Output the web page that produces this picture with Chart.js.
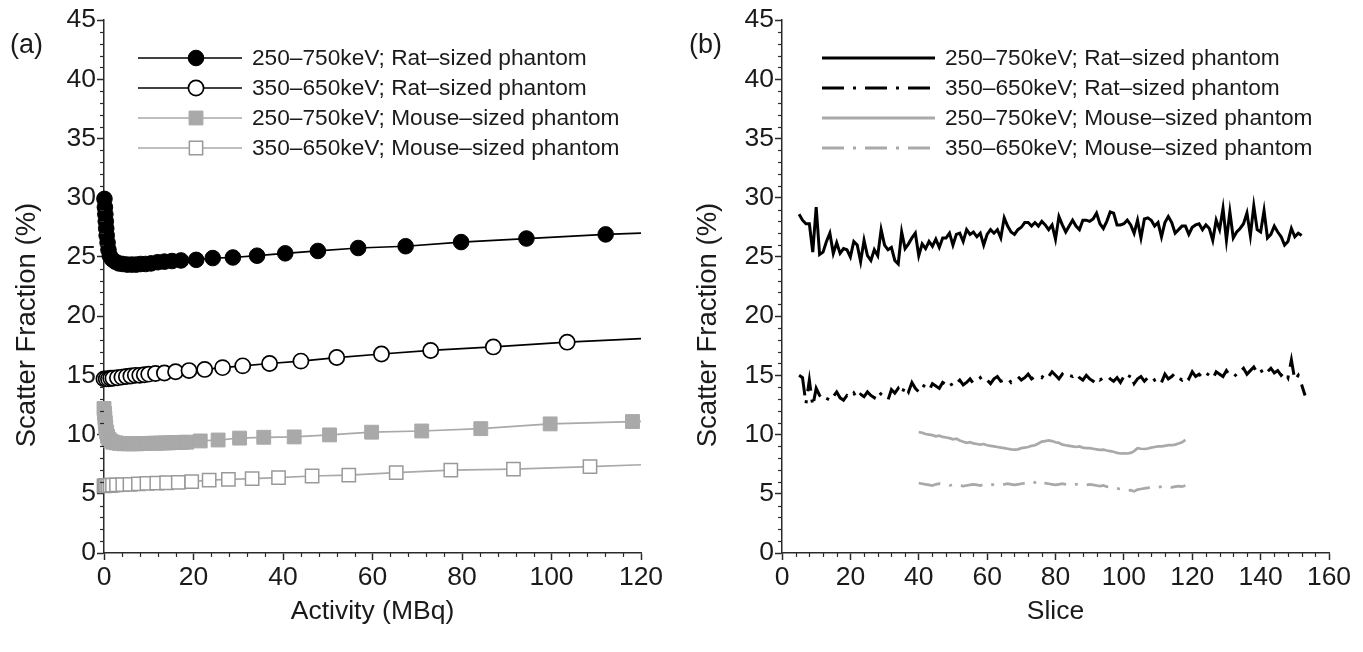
<!DOCTYPE html>
<html><head><meta charset="utf-8">
<script src="https://cdn.jsdelivr.net/npm/chart.js@4.4.1/dist/chart.umd.min.js"></script>
<style>
html,body{margin:0;padding:0;background:#fff;width:1363px;height:652px;overflow:hidden}
#ca{position:absolute;left:0;top:0}
#cb{position:absolute;left:680px;top:0}
</style></head>
<body>
<canvas id="ca" width="670" height="652"></canvas>
<canvas id="cb" width="683" height="652"></canvas>
<script>
// ---------- Panel (a): scatter fraction vs activity ----------
const actRat250 = [0.1,0.2,0.3,0.4,0.5,0.6,0.8,1.0,1.3,1.8,2.5,3.3,4.2,5.2,6.2,7.2,8.2,9.3,10.5,12,13.5,15.2,17.2,20.6,24.3,28.8,34.2,40.5,47.8,56.8,67.4,79.8,94.4,112.1,120];
const sfRat250  = [29.9,29.2,28.6,28.0,27.4,26.8,26.2,25.6,25.1,24.8,24.6,24.45,24.4,24.35,24.35,24.35,24.4,24.4,24.45,24.55,24.6,24.65,24.7,24.75,24.9,24.95,25.1,25.3,25.5,25.75,25.9,26.25,26.55,26.9,27.0];

const actRat350 = [0,0.5,1,1.5,2,3,4,5,6,7,8,9,10,11.5,13.5,16,19,22.5,26.5,31,37,44,52,62,73,87,103.5,120];
const sfRat350  = [14.7,14.7,14.7,14.75,14.75,14.8,14.85,14.9,14.95,15.0,15.0,15.05,15.1,15.15,15.2,15.3,15.4,15.5,15.65,15.8,16.0,16.2,16.5,16.8,17.1,17.4,17.8,18.1];

const actMouse250 = [0,0.1,0.2,0.3,0.4,0.6,0.8,1.1,1.5,2.0,2.7,3.5,4.5,5.5,6.5,7.5,8.5,9.5,10.5,11.5,12.5,13.5,14.5,15.5,16.5,17.5,18.5,21.5,25.5,30.3,35.7,42.5,50.4,59.8,71,84.2,99.7,118.1,120];
const sfMouse250  = [12.2,11.8,11.4,11.0,10.6,10.2,9.85,9.6,9.45,9.35,9.3,9.25,9.22,9.22,9.22,9.22,9.24,9.25,9.26,9.27,9.28,9.29,9.3,9.32,9.33,9.34,9.36,9.46,9.54,9.7,9.77,9.8,9.97,10.2,10.3,10.5,10.9,11.1,11.12];

const actMouse350 = [0,0.3,0.6,1.0,1.4,1.9,2.8,4.2,5.8,7.7,9.6,11.8,14.0,16.6,19.6,23.5,27.8,33.1,39,46.5,54.7,65.3,77.5,91.5,108.6,120];
const sfMouse350  = [5.66,5.68,5.7,5.7,5.72,5.73,5.76,5.78,5.8,5.84,5.87,5.9,5.93,5.97,6.02,6.15,6.22,6.28,6.36,6.5,6.58,6.78,7.0,7.08,7.3,7.45];

// ---------- Panel (b): scatter fraction vs slice ----------
const sliceStartRat = 5;
const sfSliceRat250 = [28.6,28.1,27.8,27.8,25.4,29.2,25.2,25.4,26.3,27.0,25.3,26.2,25.3,25.7,25.6,25.0,26.3,26.0,24.6,26.4,25.1,24.7,25.6,25.1,27.3,26.0,25.6,25.8,24.7,24.4,27.1,25.7,26.1,26.6,27.0,25.1,26.1,25.7,26.3,25.9,26.5,25.8,26.6,26.6,27.0,26.0,26.9,27.0,26.3,
27.3,26.9,27.1,26.7,27.0,26.0,26.9,27.3,27.0,27.3,26.6,28.3,27.6,27.1,26.9,27.3,27.5,27.9,27.9,27.6,27.9,27.6,28.0,27.7,27.3,27.7,26.5,28.4,27.7,27.1,27.6,28.1,27.6,27.3,28.1,28.1,28.0,28.2,28.7,27.8,27.4,28.0,28.8,28.7,27.7,27.7,27.8,28.1,27.7,27.0,28.1,26.6,28.2,28.3,
28.1,27.6,27.9,26.7,27.9,28.4,27.9,27.0,27.3,27.6,27.6,26.9,27.5,27.7,27.8,27.3,27.7,27.4,26.4,28.1,27.3,29.1,26.4,28.8,26.6,27.1,27.4,27.8,28.7,26.8,29.3,27.3,27.1,28.9,26.6,26.9,27.6,27.1,26.7,26.0,26.3,27.4,26.7,27.0,26.8];
const sfSliceRat350 = [15.0,14.8,12.6,14.6,12.4,13.9,13.3,13.0,12.8,13.4,
13.2,13.6,13.1,12.9,13.3,13.1,13.5,13.0,13.4,13.2,
13.6,13.3,13.1,13.7,13.4,13.2,12.9,13.8,13.5,13.9,
13.4,14.1,13.6,14.4,13.9,13.6,14.2,14.0,13.7,14.3,
14.1,13.9,14.4,14.2,14.5,14.0,14.3,14.6,14.2,14.4,
14.7,14.3,14.5,14.8,14.4,14.6,14.3,14.7,14.9,14.5,
14.6,14.8,14.4,14.7,14.9,14.6,14.8,15.1,14.7,14.9,
15.0,14.8,15.2,14.9,15.3,15.0,14.7,15.1,14.8,15.0,
14.9,15.2,14.8,14.6,15.0,14.7,14.5,14.9,14.6,14.8,
15.0,14.7,14.5,14.8,14.4,14.9,14.6,15.1,14.3,14.7,
14.9,14.5,14.8,15.0,14.6,14.8,14.4,15.1,14.7,14.9,
15.2,14.8,14.6,15.0,14.7,15.3,14.9,15.1,14.8,15.2,
15.0,14.7,15.3,15.1,14.9,15.4,15.0,15.2,14.9,15.3,
15.6,15.1,15.4,15.7,15.2,15.5,15.0,15.3,15.6,15.2,
15.4,15.0,15.3,14.8,16.3,14.6,15.0,14.2,13.3];
const sliceStartMouse = 40;
const sfSliceMouse250 = [10.2,10.15,10.05,10.0,9.95,9.85,9.9,9.8,9.75,9.7,
9.6,9.65,9.5,9.4,9.3,9.35,9.25,9.2,9.15,9.2,
9.1,9.05,9.0,8.95,8.9,8.85,8.8,8.75,8.72,8.75,
8.85,8.9,8.95,9.05,9.1,9.25,9.4,9.45,9.5,9.45,
9.35,9.3,9.15,9.1,9.05,9.0,8.95,9.0,8.9,8.85,
8.85,8.8,8.75,8.7,8.72,8.65,8.6,8.55,8.45,8.4,
8.42,8.4,8.45,8.6,8.85,8.8,8.78,8.82,8.9,8.95,
9.0,9.0,9.05,9.1,9.1,9.15,9.25,9.35,9.55];
const sfSliceMouse350 = [5.9,5.85,5.8,5.75,5.7,5.8,5.85,5.8,5.75,5.7,
5.75,5.8,5.7,5.65,5.7,5.75,5.8,5.75,5.7,5.8,
5.85,5.8,5.75,5.7,5.75,5.8,5.85,5.8,5.75,5.8,
5.85,5.9,6.0,6.05,5.95,6.1,6.0,5.9,5.85,5.8,
5.75,5.8,5.85,5.8,5.75,5.7,5.8,5.85,5.8,5.75,
5.8,5.75,5.7,5.65,5.7,5.6,5.55,5.5,5.45,5.4,
5.3,5.25,5.3,5.2,5.35,5.4,5.45,5.5,5.55,5.6,
5.55,5.6,5.65,5.6,5.55,5.6,5.65,5.6,5.7];

const seriesLabels = ['250\u2013750keV; Rat\u2013sized phantom','350\u2013650keV; Rat\u2013sized phantom','250\u2013750keV; Mouse\u2013sized phantom','350\u2013650keV; Mouse\u2013sized phantom'];
const yTitle = 'Scatter Fraction (%)';
const yTicksMax = 45, yStep = 5;

// ---------- helpers ----------
const FONT = "'Liberation Sans', Arial, Helvetica, sans-serif";
const TXT = '#1a1a1a';
const AX = '#2a2a2a';
const GRAY = '#a9a9a9';
const pairs = (xs, ys) => xs.map((x, i) => ({x, y: ys[i]}));
const slicePairs = (start, ys) => ys.map((y, i) => ({x: start + i, y}));
const lastHidden = r => (ctx) => ctx.dataIndex === ctx.dataset.data.length - 1 ? 0 : r;

const minorTicks = {
  id: 'minorTicks',
  afterDraw(chart, args, o) {
    const {ctx, chartArea: a} = chart;
    const xs = chart.scales.x, ys = chart.scales.y;
    ctx.save();
    ctx.strokeStyle = AX; ctx.lineWidth = 1.2;
    for (let i = 0; i <= o.yMax / o.yMinor; i++) {
      const v = i * o.yMinor;
      if (Math.abs(v / o.yMajor - Math.round(v / o.yMajor)) < 1e-6) continue;
      const py = Math.round(ys.getPixelForValue(v)) + 0.5;
      ctx.beginPath(); ctx.moveTo(a.left - 4, py); ctx.lineTo(a.left, py); ctx.stroke();
    }
    for (let i = 0; i <= o.xMax / o.xMinor; i++) {
      const v = i * o.xMinor;
      if (Math.abs(v / o.xMajor - Math.round(v / o.xMajor)) < 1e-6) continue;
      const px = Math.round(xs.getPixelForValue(v)) + 0.5;
      ctx.beginPath(); ctx.moveTo(px, a.bottom); ctx.lineTo(px, a.bottom + 4); ctx.stroke();
    }
    ctx.restore();
  }
};

const customLegend = {
  id: 'customLegend',
  afterDraw(chart, args, o) {
    const ctx = chart.ctx;
    ctx.save();
    // panel tag
    ctx.font = '27px ' + FONT; ctx.fillStyle = TXT;
    ctx.textBaseline = 'middle'; ctx.textAlign = 'left';
    ctx.fillText(o.tag, o.tagX, o.tagY);
    // y-axis title
    ctx.save();
    ctx.translate(o.ytX, o.ytY); ctx.rotate(-Math.PI / 2);
    ctx.font = '27.5px ' + FONT; ctx.textAlign = 'center';
    ctx.fillText(yTitle, 0, 0);
    ctx.restore();
    chart.data.datasets.forEach((ds, i) => {
      const y = o.rows[i];
      ctx.save();
      ctx.strokeStyle = ds.borderColor; ctx.lineWidth = o.lineWidth[i];
      ctx.setLineDash(ds.borderDash || []);
      ctx.beginPath(); ctx.moveTo(o.x1, y); ctx.lineTo(o.x2, y); ctx.stroke();
      ctx.restore();
      if (o.markers) {
        ctx.save();
        ctx.fillStyle = ds.pointBackgroundColor; ctx.strokeStyle = ds.pointBorderColor;
        ctx.lineWidth = ds.pointBorderWidth;
        Chart.helpers.drawPoint(ctx, {pointStyle: ds.pointStyle, radius: ds.legendRadius, borderWidth: ds.pointBorderWidth, rotation: 0}, o.mx, y);
        ctx.restore();
      }
      ctx.font = o.fontSize + 'px ' + FONT; ctx.fillStyle = TXT;
      ctx.textBaseline = 'middle'; ctx.textAlign = 'left';
      ctx.fillText(ds.label, o.tx, y + 1);
    });
    ctx.restore();
  }
};

function scalesFor(xMax, xStep, xTitle, yWidth) {
  const tickFont = {family: FONT, size: 26.5};
  const titleFont = {family: FONT, size: 26.5};
  return {
    x: {
      type: 'linear', min: 0, max: xMax,
      ticks: {stepSize: xStep, font: tickFont, color: TXT, padding: 2, maxRotation: 0, autoSkip: false},
      grid: {drawOnChartArea: false, tickLength: 7, tickWidth: 1.5, tickColor: AX},
      border: {color: AX, width: 1.5},
      title: {display: true, text: xTitle, font: titleFont, color: TXT, padding: {top: 0, bottom: 24}},
      afterFit(s) { s.height = 99; }
    },
    y: {
      type: 'linear', min: 0, max: yTicksMax,
      ticks: {stepSize: yStep, font: tickFont, color: TXT, padding: 1},
      grid: {drawOnChartArea: false, tickLength: 7, tickWidth: 1.5, tickColor: AX},
      border: {color: AX, width: 1.5},
      title: {display: false},
      afterFit(s) { s.width = yWidth; }
    }
  };
}

// ---------- Chart (a) ----------
new Chart(document.getElementById('ca'), {
  type: 'line',
  data: {
    datasets: [
      {label: seriesLabels[0], data: pairs(actRat250, sfRat250), borderColor: '#000', borderWidth: 1.7,
       pointStyle: 'circle', pointRadius: lastHidden(7.8), legendRadius: 7.8, pointBackgroundColor: '#000', pointBorderColor: '#000', pointBorderWidth: 1},
      {label: seriesLabels[1], data: pairs(actRat350, sfRat350), borderColor: '#000', borderWidth: 1.7,
       pointStyle: 'circle', pointRadius: lastHidden(7.6), legendRadius: 7.6, pointBackgroundColor: '#fff', pointBorderColor: '#000', pointBorderWidth: 1.7},
      {label: seriesLabels[2], data: pairs(actMouse250, sfMouse250), borderColor: GRAY, borderWidth: 1.7,
       pointStyle: 'rect', pointRadius: lastHidden(9.8), legendRadius: 9.8, pointBackgroundColor: GRAY, pointBorderColor: GRAY, pointBorderWidth: 1},
      {label: seriesLabels[3], data: pairs(actMouse350, sfMouse350), borderColor: GRAY, borderWidth: 1.7,
       pointStyle: 'rect', pointRadius: lastHidden(9.4), legendRadius: 9.4, pointBackgroundColor: '#fff', pointBorderColor: '#999', pointBorderWidth: 1.5}
    ]
  },
  options: {
    responsive: false, animation: false,
    clip: false,
    elements: {line: {tension: 0}},
    layout: {padding: {top: 20, right: 29, left: 0, bottom: 0}},
    plugins: {
      legend: {display: false}, tooltip: {enabled: false},
      minorTicks: {yMax: 45, yMinor: 1, yMajor: 5, xMax: 120, xMinor: 4, xMajor: 20},
      customLegend: {tag: '(a)', tagX: 10, tagY: 46, ytX: 27, ytY: 325, rows: [58, 88, 118, 148], x1: 138, x2: 242, mx: 196, tx: 252, fontSize: 22.7, markers: true, lineWidth: [1.7, 1.7, 1.7, 1.7]}
    },
    scales: scalesFor(120, 20, 'Activity (MBq)', 104)
  },
  plugins: [minorTicks, customLegend]
});

// ---------- Chart (b) ----------
new Chart(document.getElementById('cb'), {
  type: 'line',
  data: {
    datasets: [
      {label: seriesLabels[0], data: slicePairs(sliceStartRat, sfSliceRat250), borderColor: '#000', borderWidth: 3, pointRadius: 0},
      {label: seriesLabels[1], data: slicePairs(sliceStartRat, sfSliceRat350), borderColor: '#000', borderWidth: 3, pointRadius: 0, borderDash: [22, 9, 3, 9]},
      {label: seriesLabels[2], data: slicePairs(sliceStartMouse, sfSliceMouse250), borderColor: GRAY, borderWidth: 2.7, pointRadius: 0},
      {label: seriesLabels[3], data: slicePairs(sliceStartMouse, sfSliceMouse350), borderColor: GRAY, borderWidth: 2.7, pointRadius: 0, borderDash: [22, 9, 3, 9]}
    ]
  },
  options: {
    responsive: false, animation: false,
    elements: {line: {tension: 0}},
    layout: {padding: {top: 20, right: 34, left: 0, bottom: 0}},
    plugins: {
      legend: {display: false}, tooltip: {enabled: false},
      minorTicks: {yMax: 45, yMinor: 1, yMajor: 5, xMax: 160, xMinor: 4, xMajor: 20},
      customLegend: {tag: '(b)', tagX: 9, tagY: 46, ytX: 28, ytY: 325, rows: [58, 88, 118, 148], x1: 142, x2: 255, mx: 0, tx: 265, fontSize: 22.7, markers: false, lineWidth: [2.8, 2.8, 2.8, 2.8]}
    },
    scales: scalesFor(160, 20, 'Slice', 102)
  },
  plugins: [minorTicks, customLegend]
});
</script>
</body></html>
